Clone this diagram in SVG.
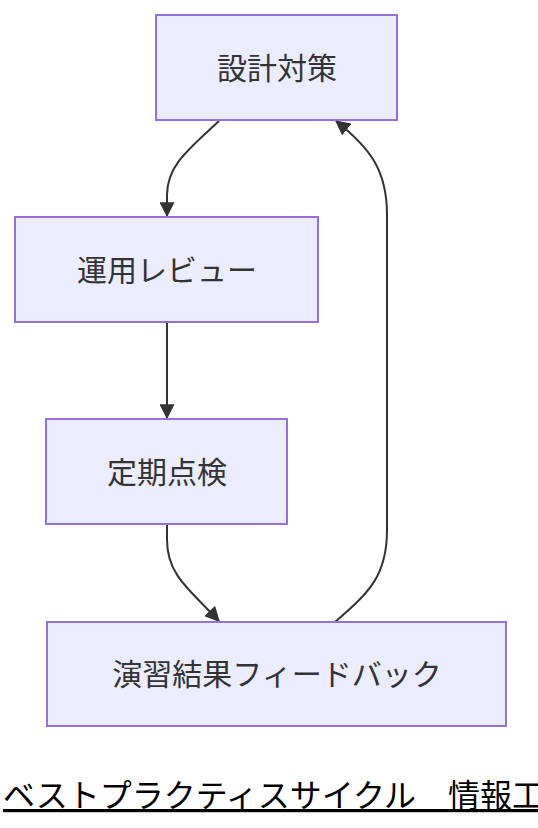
<svg xmlns="http://www.w3.org/2000/svg" width="538" height="828" viewBox="0 0 538 828">
<style>
.node rect{fill:#ECECFF;stroke:#9370DB;stroke-width:2}
.node text{font-family:"Noto Sans CJK JP","Noto Sans",sans-serif;font-size:30px;fill:#333;text-anchor:middle;dominant-baseline:central}
.edge{fill:none;stroke:#333;stroke-width:2}
.title{font-family:"Noto Sans CJK JP","Noto Sans",sans-serif;font-size:32px;fill:#000;text-decoration:underline}
</style>
<defs>
<marker id="ah" viewBox="0 0 12 12" refX="11" refY="6" markerWidth="15" markerHeight="15" orient="auto" markerUnits="userSpaceOnUse">
<path d="M0,0L12,6L0,12z" fill="#333"/>
</marker>
</defs>
<g id="edges">
<path class="edge" d="M219,121 C190,148 167,165 167,195 L167,216" marker-end="url(#ah)"/>
<path class="edge" d="M167,323 L167,418" marker-end="url(#ah)"/>
<path class="edge" d="M167,525 L167,540 C167,575 190,590 219,621" marker-end="url(#ah)"/>
<path class="edge" d="M335,622 C370,592 387,575 387,530 L387,215 C387,170 370,148 336,121" marker-end="url(#ah)"/>
</g>
<g id="n1" class="node"><rect x="156" y="15" width="241" height="105"/><text x="277" y="66">設計対策</text></g>
<g id="n2" class="node"><rect x="15" y="217" width="303" height="105"/><text x="167" y="268">運用レビュー</text></g>
<g id="n3" class="node"><rect x="46" y="419" width="241" height="105"/><text x="167" y="470">定期点検</text></g>
<g id="n4" class="node"><rect x="47" y="622" width="459" height="104"/><text x="277" y="672">演習結果フィードバック</text></g>
<text class="title" x="3" y="807">ベストプラクティスサイクル　情報工</text>
</svg>
